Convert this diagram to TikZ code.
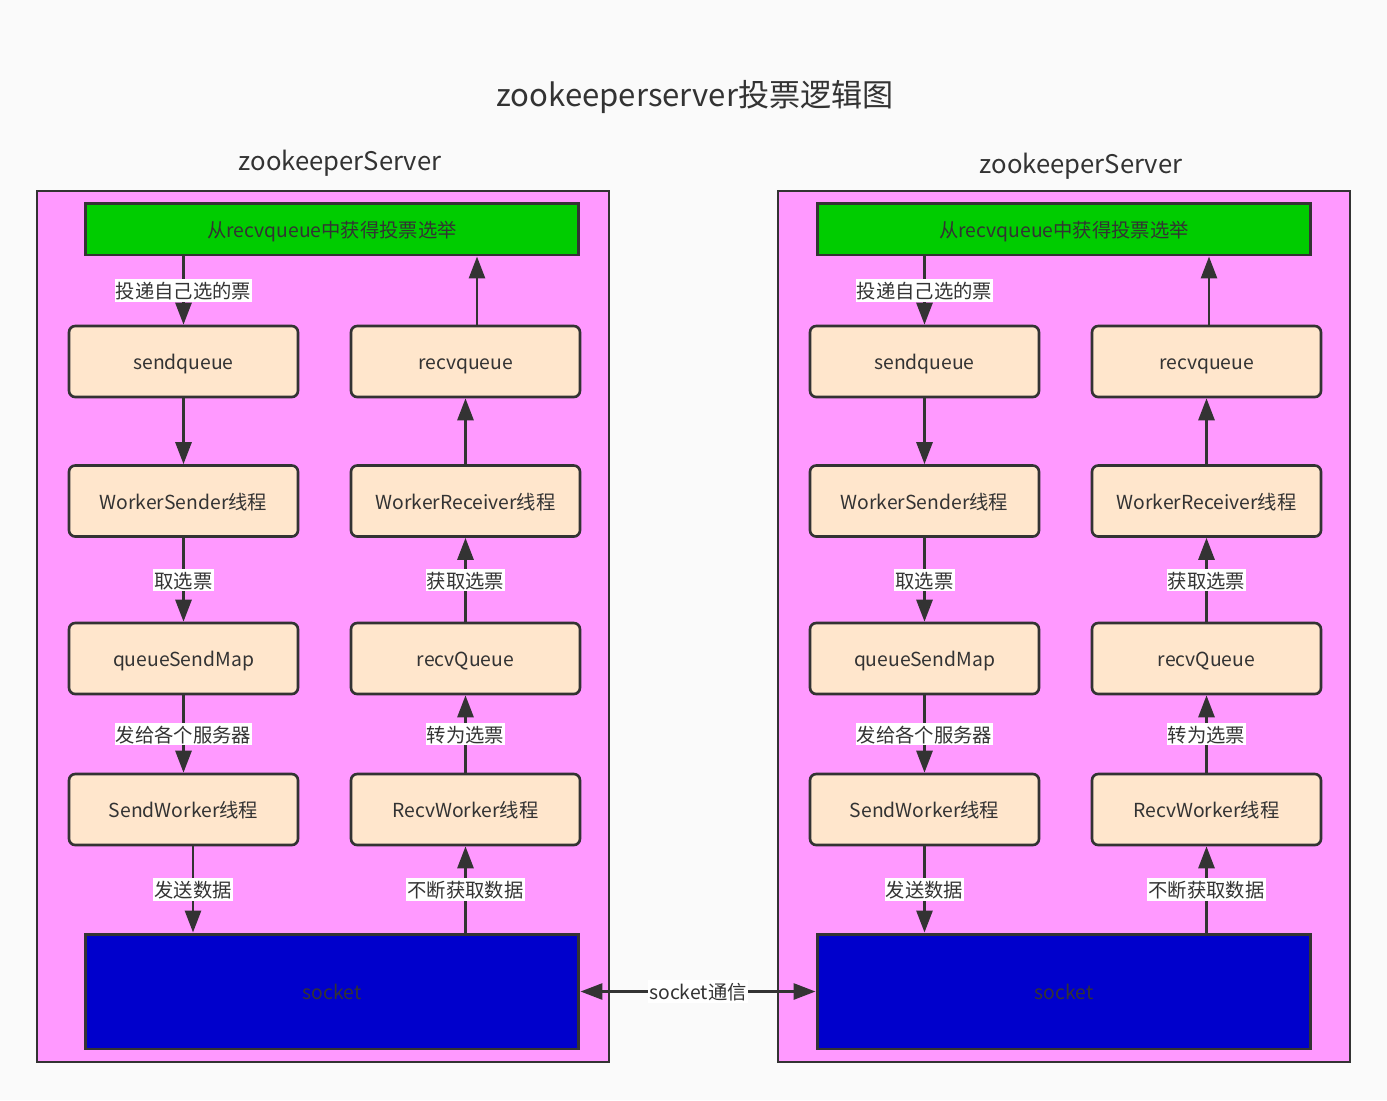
\documentclass[tikz,border=0pt]{standalone}
\usepackage{fontspec}
\setmainfont{Noto Sans CJK SC}
\usepackage{xcolor}
\usepackage{tikz}
\usetikzlibrary{arrows.meta,positioning}

\definecolor{ink}{HTML}{333333}
\definecolor{paper}{HTML}{FAFAFA}
\definecolor{serverbg}{HTML}{FF99FF}
\definecolor{votegreen}{HTML}{00CC00}
\definecolor{queuefill}{HTML}{FFE6CC}
\definecolor{socketblue}{HTML}{0000CC}

\begin{document}
\begin{tikzpicture}[
    x=0.02cm, y=-0.02cm,
    every node/.style={text=ink, font=\fontsize{11}{13}\selectfont, text height=1.05em, text depth=0.1em},
    heading/.style={font=\fontsize{17.7}{20}\selectfont},
    servername/.style={font=\fontsize{14.6}{17}\selectfont},
    server/.style={rectangle, draw=ink, line width=1.5pt, fill=serverbg, minimum width=11.44cm, minimum height=17.42cm},
    vote/.style={rectangle, draw=ink, line width=1.7pt, fill=votegreen, minimum width=9.88cm, minimum height=1.04cm},
    queue/.style={rectangle, rounded corners=3.5pt, draw=ink, line width=1.5pt, fill=queuefill, minimum width=4.58cm, minimum height=1.42cm},
    sock/.style={rectangle, draw=ink, line width=1.7pt, fill=socketblue, minimum width=9.88cm, minimum height=2.3cm},
    tag/.style={fill=white, inner sep=0.6pt},
    arrow/.style={-{Triangle[length=0.44cm, width=0.32cm]}, draw=ink, line width=1.6pt},
    biarrow/.style={{Triangle[length=0.44cm, width=0.32cm]}-{Triangle[length=0.44cm, width=0.32cm]}, draw=ink, line width=1.6pt}
]
\fill[paper] (0,0) rectangle (1387,1100);
\useasboundingbox (0,0) rectangle (1387,1100);

\node[heading] (title) at (695,98) {zookeeperserver投票逻辑图};

% left server
\node[server] (l-box) at (323,626.5) {};
\node[servername] (l-name) at (340,162) {zookeeperServer};
\node[vote] (l-vote) at (332,229) {从recvqueue中获得投票选举};
\node[queue] (l-sendq) at (183.5,361.5) {sendqueue};
\node[queue] (l-wsend) at (183.5,501) {WorkerSender线程};
\node[queue] (l-qmap) at (183.5,658.5) {queueSendMap};
\node[queue] (l-swork) at (183.5,809.5) {SendWorker线程};
\node[queue] (l-recvq) at (465.5,361.5) {recvqueue};
\node[queue] (l-wrecv) at (465.5,501) {WorkerReceiver线程};
\node[queue] (l-rqueue) at (465.5,658.5) {recvQueue};
\node[queue] (l-rwork) at (465.5,809.5) {RecvWorker线程};
\node[sock] (l-sock) at (332,991.5) {socket};

\draw[arrow] (l-vote.south -| l-sendq.north) -- node[tag] {投递自己选的票} (l-sendq.north);
\draw[arrow] (l-sendq) -- (l-wsend);
\draw[arrow] (l-wsend) -- node[tag] {取选票} (l-qmap);
\draw[arrow] (l-qmap) -- node[tag] {发给各个服务器} (l-swork);
\draw[arrow] (l-swork.south -| 193,0) -- node[tag] {发送数据} (l-sock.north -| 193,0);
\draw[arrow] (l-sock.north -| l-rwork.south) -- node[tag] {不断获取数据} (l-rwork.south);
\draw[arrow] (l-rwork) -- node[tag] {转为选票} (l-rqueue);
\draw[arrow] (l-rqueue) -- node[tag] {获取选票} (l-wrecv);
\draw[arrow] (l-wrecv) -- (l-recvq);
\draw[arrow] (l-recvq.north -| 477,0) -- (l-vote.south -| 477,0);

% right server
\node[server] (r-box) at (1064,626.5) {};
\node[servername] (r-name) at (1081,165) {zookeeperServer};
\node[vote] (r-vote) at (1064,229) {从recvqueue中获得投票选举};
\node[queue] (r-sendq) at (924.5,361.5) {sendqueue};
\node[queue] (r-wsend) at (924.5,501) {WorkerSender线程};
\node[queue] (r-qmap) at (924.5,658.5) {queueSendMap};
\node[queue] (r-swork) at (924.5,809.5) {SendWorker线程};
\node[queue] (r-recvq) at (1206.5,361.5) {recvqueue};
\node[queue] (r-wrecv) at (1206.5,501) {WorkerReceiver线程};
\node[queue] (r-rqueue) at (1206.5,658.5) {recvQueue};
\node[queue] (r-rwork) at (1206.5,809.5) {RecvWorker线程};
\node[sock] (r-sock) at (1064,991.5) {socket};

\draw[arrow] (r-vote.south -| r-sendq.north) -- node[tag] {投递自己选的票} (r-sendq.north);
\draw[arrow] (r-sendq) -- (r-wsend);
\draw[arrow] (r-wsend) -- node[tag] {取选票} (r-qmap);
\draw[arrow] (r-qmap) -- node[tag] {发给各个服务器} (r-swork);
\draw[arrow] (r-swork) -- node[tag] {发送数据} (r-sock.north -| r-swork.south);
\draw[arrow] (r-sock.north -| r-rwork.south) -- node[tag] {不断获取数据} (r-rwork.south);
\draw[arrow] (r-rwork) -- node[tag] {转为选票} (r-rqueue);
\draw[arrow] (r-rqueue) -- node[tag] {获取选票} (r-wrecv);
\draw[arrow] (r-wrecv) -- (r-recvq);
\draw[arrow] (r-recvq.north -| 1209,0) -- (r-vote.south -| 1209,0);

% link between the two sockets
\draw[biarrow] (l-sock.east) -- node[tag] {socket通信} (r-sock.west);
\end{tikzpicture}
\end{document}
